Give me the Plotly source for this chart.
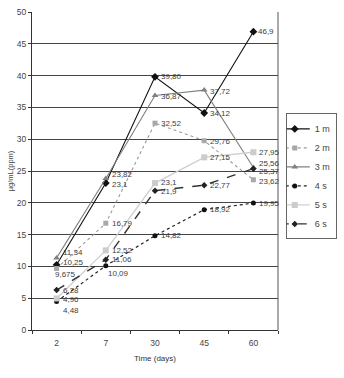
import plotly.graph_objects as go

days = ["2", "7", "30", "45", "60"]

s1m = [10.25, 23.1, 39.80, 34.12, 46.9]
s2m = [9.675, 16.79, 32.52, 29.76, 23.62]
s3m = [11.34, 23.82, 36.87, 37.72, 25.56]
s4s = [4.48, 10.09, 14.82, 18.92, 19.95]
s5s = [4.96, 12.52, 23.1, 27.15, 27.95]
s6s = [6.28, 11.06, 21.9, 22.77, 25.37]

lab1m = ["10,25", "23,1", "39,80", "34,12", "46,9"]
lab2m = ["9,675", "16,79", "32,52", "29,76", "23,62"]
lab3m = ["11,34", "23,82", "36,87", "37,72", "25,56"]
lab4s = ["4,48", "10,09", "14,82", "18,92", "19,95"]
lab5s = ["4,96", "12,52", "23,1", "27,15", "27,95"]
lab6s = ["6,28", "11,06", "21,9", "22,77", "25,37"]

names = ["1 m", "2 m", "3 m", "4 s", "5 s", "6 s"]

# styles and label offsets (pixels) per series
series = [
    (names[0], s1m, lab1m, dict(color="#111111", width=1.1, dash="solid"),
     dict(symbol="diamond", size=6, color="#111111"),
     [(4, 2), (4, -1), (4, 0), (4, 0), (3, 0)]),
    (names[1], s2m, lab2m, dict(color="#9a9a9a", width=1.1, dash="dot"),
     dict(symbol="square", size=5, color="#a8a8a8"),
     [(-4, -6), (4, 0), (4, 0), (4, -1), (4, -2)]),
    (names[2], s3m, lab3m, dict(color="#808080", width=1.1, dash="solid"),
     dict(symbol="triangle-up", size=6, color="#808080"),
     [(4, 5), (4, 4), (4, -1), (4, -1), (4, 4)]),
    (names[3], s4s, lab4s, dict(color="#222222", width=1.2, dash="dot"),
     dict(symbol="circle", size=5, color="#111111"),
     [(4, -9), (0, -8), (4, 0), (4, 0), (4, 0)]),
    (names[4], s5s, lab5s, dict(color="#cfcfcf", width=1.3, dash="solid"),
     dict(symbol="square", size=6, color="#cccccc"),
     [(4, -1), (4, 0), (4, 1), (4, 0), (4, 0)]),
    (names[5], s6s, lab6s, dict(color="#333333", width=1.4, dash="dash"),
     dict(symbol="diamond", size=5, color="#222222"),
     [(4, 0), (4, 0), (4, -1), (4, 0), (4, -3)]),
]

fig = go.Figure()
annotations = []
for name, vals, labs, line, marker, offs in series:
    fig.add_trace(go.Scatter(
        x=days, y=vals, name=name, mode="lines+markers",
        line=line, marker=marker, showlegend=True,
    ))
    for i, (v, t, (dx, dy)) in enumerate(zip(vals, labs, offs)):
        annotations.append(dict(
            x=i, y=v, xref="x", yref="y", text=t, showarrow=False,
            xanchor="left", yanchor="middle", xshift=dx, yshift=dy,
            font=dict(family="Liberation Sans, Arial", size=8, color="#404040"),
        ))

fig.update_layout(
    width=344, height=378,
    margin=dict(l=32, r=59, t=7, b=48),
    paper_bgcolor="white", plot_bgcolor="white",
    font=dict(family="Liberation Sans, Arial", size=8, color="#444444"),
    annotations=annotations,
    legend=dict(
        x=(293 - 32) / 253, y=(330 - 110) / 323, xanchor="left", yanchor="top",
        bordercolor="#666666", borderwidth=1, bgcolor="white",
        font=dict(size=9, color="#444444"),
        itemwidth=30, tracegroupgap=0, indentation=-12,
    ),
    xaxis=dict(
        type="category", tickson="boundaries", ticks="outside", ticklen=3,
        tickcolor="#333333", showline=True, linecolor="#333333", linewidth=1,
        showgrid=False, zeroline=False, ticklabelstandoff=5,
        range=[-0.5, 4.5],
        title=dict(text="Time (days)", font=dict(size=8, color="#333333"), standoff=8),
        tickfont=dict(size=8.5, color="#444444"),
    ),
    yaxis=dict(
        range=[0, 50], dtick=5, ticks="outside", ticklen=3, tickcolor="#333333",
        showline=True, linecolor="#333333", linewidth=1,
        showgrid=True, gridcolor="#444444", gridwidth=1, zeroline=False,
        title=dict(text="µg/mL(ppm)", font=dict(size=7.5, color="#444444"), standoff=2),
        tickfont=dict(size=8.5, color="#444444"),
    ),
)
fig.add_shape(type="line", xref="paper", yref="paper", x0=1, x1=1, y0=0, y1=1,
              line=dict(color="#555555", width=1))

fig.write_html("out.html")
